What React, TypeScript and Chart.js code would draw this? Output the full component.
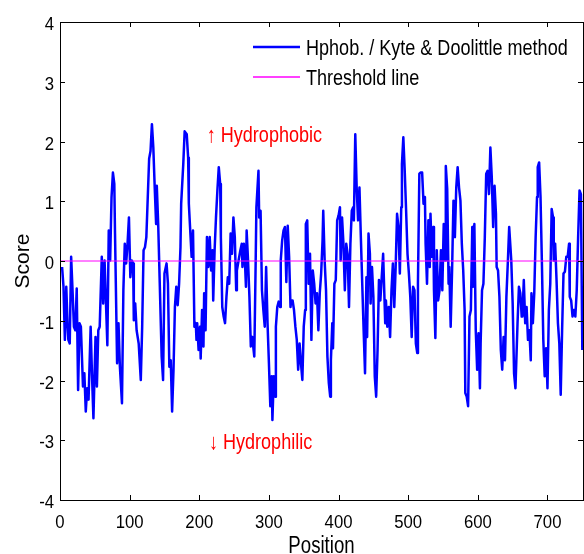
import React, { useEffect, useRef } from 'react';
import { Chart, registerables } from 'chart.js';

Chart.register(...registerables);

// ---- data ----
const positions = [
  3, 5, 7, 9, 11, 12, 14, 16, 18, 20, 22, 24, 26, 28, 30, 33, 35, 37, 39, 41, 44, 46, 48, 51, 53, 55, 57, 60, 62, 64,
  68, 70, 72, 74, 76, 78, 79, 82, 84, 86, 89, 91, 93, 95, 97, 99, 101, 103, 105, 106, 108, 110, 113, 116, 118, 120, 122, 124, 128,
  130, 132, 134, 136, 138, 139, 141, 143, 146, 148, 150, 153, 155, 157, 159, 161, 163, 165, 167, 169, 171, 173, 174, 177, 179,
  182, 184, 185, 187, 189, 191, 193, 195, 196, 197, 199, 201, 202, 204, 206, 207, 209, 211, 213, 215, 217, 219, 220, 222, 224,
  226, 228, 230, 231, 233, 235, 237, 239, 241, 243, 245, 247, 249, 251, 253, 254, 256,
  259, 261, 262, 264, 265, 267, 268, 270, 272, 274, 276, 279, 281, 282, 285, 286, 288, 290, 292, 294, 296, 298, 300, 302, 304,
  305, 307, 309, 310, 312, 314, 316, 317, 319, 321, 323, 325, 327, 329, 331, 332, 334, 336, 338, 340, 342, 344, 346, 348, 350,
  352, 353, 355, 357, 359, 361, 363, 365, 367, 369, 371, 373, 375, 377, 378, 380, 382, 384, 386,
  388, 389, 391, 392, 394, 396, 398, 400, 402, 403, 405, 407, 409, 411, 413, 415, 417, 419, 421, 422, 424, 426, 428, 430, 432,
  434, 436, 438, 440, 441, 443, 445, 446, 448, 450, 452, 454, 456, 458, 460, 462, 464, 467, 468, 470, 472, 474, 476, 478, 480,
  482, 484, 486, 488, 490, 491, 493, 495, 497, 499, 501, 503, 505, 507, 509, 511, 513, 514, 516,
  518, 520, 522, 524, 525, 527, 529, 531, 532, 534, 536, 537, 539, 541, 543, 545, 547, 549, 551, 553, 554, 556, 558, 559, 561,
  563, 565, 567, 569, 571, 573, 575, 577, 579, 581, 582, 584, 586, 588, 590, 592, 593, 595, 597, 599, 601, 603, 604, 606, 608,
  610, 612, 614, 616, 618, 620, 622, 624, 626, 627, 629, 631, 633, 635, 637, 639, 641, 643, 645,
  648, 650, 652, 654, 657, 659, 661, 663, 664, 666, 668, 670, 672, 674, 676, 677, 679, 681, 683, 685, 686, 688, 690, 692, 694,
  696, 698, 700, 702, 704, 706, 708, 709, 711, 713, 715, 717, 719, 721, 723, 725, 727, 729, 731, 732, 734, 736, 738, 740, 742,
  744, 746, 748, 750,
];

const scores = [
  -0.10, -0.43, -1.32, -0.43, -1.10, -1.32, -1.38, 0.07, -0.49, -1.10, -1.16, -0.46, -2.16, -1.04, -1.10, -2.10, -1.88, -2.52, -2.13, -2.32, -1.10, -1.93, -2.63, -1.27, -2.10, -1.16, -1.10, 0.07, -0.71, 0.01,
  -1.41, 0.51, 0.01, 1.07, 1.48, 1.29, 0.46, -1.71, -1.04, -1.77, -2.38, -0.49, 0.29, -0.04, 0.29, 0.73, -0.27, 0.01, -0.04, -0.99, -0.71, -1.16, -1.38, -1.99, -1.10, 0.18, 0.23, 0.40, 1.71,
  1.84, 2.29, 1.90, 1.23, 0.62, 1.26, 0.62, -0.27, -1.60, -1.99, -0.21, -0.04, -0.38, -1.77, -1.66, -2.52, -1.82, -0.77, -0.43, -0.74, -0.38, 0.23, 0.96, 1.62, 2.17,
  2.12, 1.73, 0.96, 0.51, 0.07, 0.51, -1.10, -1.04, -1.32, -1.04, -1.49, -1.10, -1.63, -0.82, -1.43, -0.54, -1.16, 0.40, -0.10, 0.40, -0.16, 0.18, -0.66, 0.18, 0.73,
  1.18, 1.57, 1.29, 0.40, -0.77, -0.93, -1.04, -0.60, -0.27, -0.38, 0.46, 0.12, 0.73, 0.40, -0.49, -0.16, -0.02,
  0.18, 0.29, -0.10, 0.29, 0.15, -0.43, 0.51, 0.01, -0.60, -1.43, -1.27, -1.60, 0.01, 0.90, 1.51, 0.73, 0.84, -0.49, -0.82, -1.10, -0.10, -1.04, -1.71, -2.43, -1.93,
  -2.66, -1.93, -2.27, -1.10, -0.77, -0.68, -0.77, 0.01, 0.34, 0.51, 0.57, -0.35, 0.59, 0.07, -0.77, -0.66, -0.66, -0.82, -1.10, -1.32, -1.82, -1.38, -1.71, -1.99, -1.10,
  -0.82, 0.62, 0.68, -0.38, 0.12, -1.32, -0.16, -0.38, -0.71, -0.54, -1.16, -0.54, -0.21, 0.34, 0.84, 0.01, -0.49, -1.60, -2.04,
  -2.27, -1.66, -1.04, -1.46, -0.38, -0.32, 0.68, 0.76, 0.90, 0.01, 0.73, 0.29, -0.49, 0.29, 0.12, -0.77, 0.29, 0.84, 0.90, 0.68, 2.12, 1.23, 0.68, 1.23, 0.40,
  -0.38, -1.16, -1.88, -0.27, -1.27, 0.46, 0.12, -0.71, -0.10, -0.60, -1.93, -2.27, -1.49, -0.32, -0.66, -0.27, 0.12, -1.04, -0.66, -1.10, -0.77, -1.27, -0.49, -0.04, -0.77,
  -0.10, 0.79, 0.57, -0.21, 0.90, 1.62, 2.07, 1.51, 0.84, 0.12, -0.21, -0.60, -1.27, -0.43, -0.49, -1.38, -1.54, -0.38, 1.46,
  1.48, 1.48, 0.96, 1.07, 0.29, -0.38, 0.68, -0.10, 0.79, 0.07, 0.57, -0.49, -1.29, 0.18, -0.66, -0.49, 0.18, -0.49, 0.62, 0.01, 1.59, 1.21, -0.38, -0.10, -1.10,
  -0.16, 1.01, 0.40, 1.23, 1.57, 1.23, 1.01, 0.29, -0.16, -0.82, -2.21, -2.27, -2.43, -0.93, -0.82, 0.57, -0.43, 0.62, -1.16, -1.82, -1.21, -2.13, -1.38, -0.49, -0.38,
  0.40, 1.46, 1.51, 1.12, 1.90, 1.40, 0.57, 1.26, 0.79, -0.10, -0.16, -0.60, -1.49, -1.82, -1.27, -1.66, -0.60, -0.04, 0.57,
  0.01, -0.71, -1.88, -2.13, -1.04, -0.43, -0.54, -0.93, -0.93, -0.32, -1.04, -0.77, -1.32, -1.16, -1.66, -0.54, -1.04, -0.54, 0.40, 1.07, 1.57, 1.65, 1.07, -0.04, -1.32,
  -1.93, -1.46, -2.13, -0.82, -0.38, 0.87, 0.73, 0.01, 0.29, -0.32, -1.04, -1.38, -2.24, -1.16, -0.21, -0.18, 0.07, 0.07, 0.29, -0.60, -0.66, -0.93, -0.82, -0.93, -0.49,
  0.40, 1.18, 1.12, -1.49,
];

const thresholdPositions = [0, 751];
const thresholdScores = [0, 0];

const seriesLabels = ['Hphob. / Kyte & Doolittle method', 'Threshold line'];
const seriesColors = ['#0000ff', '#ff00ff'];
const seriesWidths = [2.5, 1];
const noteTexts = ['\u2191 Hydrophobic', '\u2193 Hydrophilic'];
// anchor (left end of the baseline) of each note, in data units: [position, score]
const noteAnchors = [
  [210.7, 1.99],
  [213.9, -3.14],
];
const xTitle = 'Position';
const yTitle = 'Score';

const X_MIN = 0;
const X_MAX = 751;
const Y_MIN = -4;
const Y_MAX = 4;

const FONT = "'Liberation Sans', Arial, sans-serif";

// text drawn with a narrow (Arial-Narrow-like) horizontal squeeze
function narrowText(
  ctx: CanvasRenderingContext2D,
  text: string,
  x: number,
  y: number,
  size: number,
  squeeze: number,
  align: CanvasTextAlign,
  color: string,
  rotate = 0
) {
  ctx.save();
  ctx.translate(x, y);
  if (rotate) ctx.rotate(rotate);
  ctx.scale(squeeze, 1);
  ctx.font = `${size}px ${FONT}`;
  ctx.textAlign = align;
  ctx.textBaseline = 'alphabetic';
  ctx.fillStyle = color;
  ctx.fillText(text, 0, 0);
  ctx.restore();
}

const matlabPlugin = {
  id: 'matlabFrame',
  afterDraw(chart: any) {
    const { ctx, chartArea: a, scales } = chart;
    const L = 5;
    ctx.save();
    ctx.strokeStyle = '#000';
    ctx.lineWidth = 1;
    ctx.beginPath();
    for (const t of scales.x.ticks) {
      const px = Math.round(scales.x.getPixelForValue(t.value)) + 0.5;
      ctx.moveTo(px, a.bottom);
      ctx.lineTo(px, a.bottom - L);
      ctx.moveTo(px, a.top);
      ctx.lineTo(px, a.top + L);
    }
    for (const t of scales.y.ticks) {
      const py = Math.round(scales.y.getPixelForValue(t.value)) + 0.5;
      ctx.moveTo(a.left, py);
      ctx.lineTo(a.left + L, py);
      ctx.moveTo(a.right, py);
      ctx.lineTo(a.right - L, py);
    }
    ctx.stroke();
    ctx.strokeRect(a.left + 0.5, a.top + 0.5, a.right - a.left, a.bottom - a.top);
    ctx.restore();

    // tick labels
    for (const t of scales.x.ticks) {
      narrowText(ctx, String(t.label), scales.x.getPixelForValue(t.value), a.bottom + 28, 19, 0.88, 'center', '#000');
    }
    for (const t of scales.y.ticks) {
      narrowText(ctx, String(t.label), a.left - 6, scales.y.getPixelForValue(t.value) + 8, 19, 0.88, 'right', '#000');
    }

    // axis titles
    narrowText(ctx, xTitle, (a.left + a.right) / 2, 552.5, 23, 0.81, 'center', '#000');
    narrowText(ctx, yTitle, 28.5, (a.top + a.bottom) / 2, 21, 1, 'center', '#000', -Math.PI / 2);

    // legend (no box)
    const lx0 = 253;
    const lx1 = 300;
    const rows = [47, 77];
    seriesLabels.forEach((label, i) => {
      const y = rows[i];
      ctx.save();
      ctx.beginPath();
      ctx.strokeStyle = seriesColors[i];
      ctx.globalAlpha = 1;
      ctx.lineWidth = seriesWidths[i] < 2 ? 1.4 : seriesWidths[i];
      ctx.moveTo(lx0, y);
      ctx.lineTo(lx1, y);
      ctx.stroke();
      ctx.restore();
      narrowText(ctx, label, 306, y + 8, 22, 0.82, 'left', '#000');
    });

    // notes
    noteTexts.forEach((txt, i) => {
      const [px, py] = noteAnchors[i];
      narrowText(ctx, txt, scales.x.getPixelForValue(px), scales.y.getPixelForValue(py), 22, 0.82, 'left', '#ff0000');
    });
  },
};

export default function App() {
  const ref = useRef<HTMLCanvasElement | null>(null);

  useEffect(() => {
    document.body.style.margin = '0';
    const canvas = ref.current;
    if (!canvas) return;
    const chart = new Chart(canvas, {
      type: 'line',
      data: {
        datasets: [
          {
            label: seriesLabels[0],
            data: positions.map((p, i) => ({ x: p, y: scores[i] })),
            borderColor: seriesColors[0],
            borderWidth: seriesWidths[0],
            pointRadius: 0,
            tension: 0,
            borderJoinStyle: 'round',
            order: 1,
          },
          {
            label: seriesLabels[1],
            data: thresholdPositions.map((p, i) => ({ x: p, y: thresholdScores[i] })),
            borderColor: seriesColors[1],
            borderWidth: seriesWidths[1],
            pointRadius: 0,
            order: 0,
          },
        ],
      },
      options: {
        animation: false,
        responsive: false,
        devicePixelRatio: 1,
        layout: { padding: { top: 22, right: 1, left: 0, bottom: 0 } },
        plugins: {
          legend: { display: false },
          tooltip: { enabled: false },
        },
        scales: {
          x: {
            type: 'linear',
            min: X_MIN,
            max: X_MAX,
            grid: { display: false, drawTicks: false, tickLength: 0 },
            border: { display: false },
            ticks: { display: false, stepSize: 100, includeBounds: false, autoSkip: false, maxRotation: 0 },
            title: { display: false },
            afterFit(s: any) {
              s.height = 54;
            },
          },
          y: {
            type: 'linear',
            min: Y_MIN,
            max: Y_MAX,
            grid: { display: false, drawTicks: false, tickLength: 0 },
            border: { display: false },
            ticks: { display: false, stepSize: 1 },
            title: { display: false },
            afterFit(s: any) {
              s.width = 60;
            },
          },
        },
      },
      plugins: [matlabPlugin],
    } as any);
    return () => chart.destroy();
  }, []);

  return <canvas ref={ref} width={584} height={554} style={{ display: 'block' }} />;
}
